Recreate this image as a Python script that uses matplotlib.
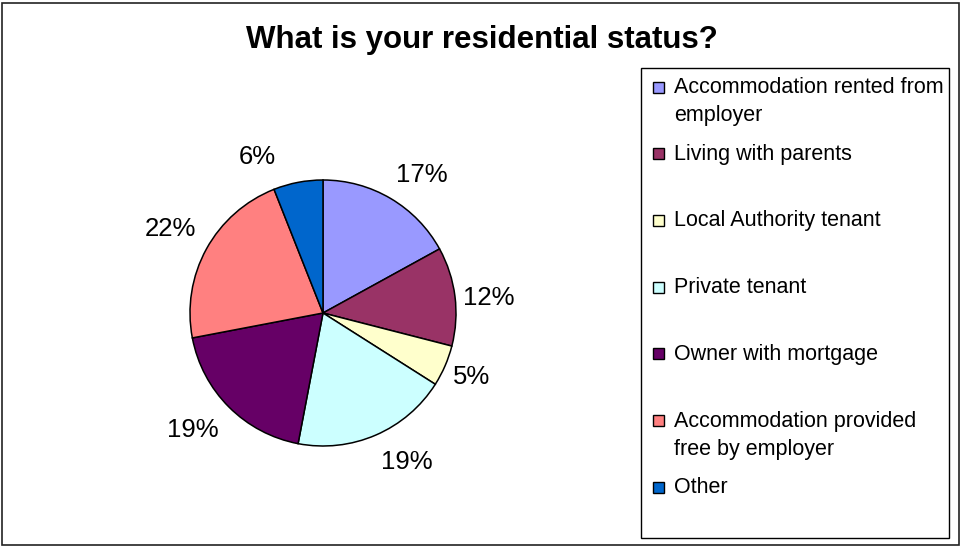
import numpy as np
import matplotlib.pyplot as plt
from matplotlib.patches import Rectangle

plt.rcParams['font.family'] = ['Liberation Sans', 'DejaVu Sans']

# residential status survey
categories = [
    'Accommodation rented from\nemployer',
    'Living with parents',
    'Local Authority tenant',
    'Private tenant',
    'Owner with mortgage',
    'Accommodation provided\nfree by employer',
    'Other',
]
shares = [17, 12, 5, 19, 19, 22, 6]
colors = ['#9999FF', '#993366', '#FFFFCC', '#CCFFFF', '#660066', '#FF8080', '#0066CC']

# best-fit style nudges for the percentage labels (degrees, radius)
label_turn = [-5, -2, 0, 6, -3, 0, 12]
label_rad = [1.28, 1.25, 1.22, 1.29, 1.32, 1.31, 1.27]

W, H = 961, 546
fig = plt.figure(figsize=(W / 100, H / 100), dpi=100)

# outer chart frame
fig.add_artist(Rectangle((1.5 / W, 1.5 / H), (W - 4) / W, (H - 4) / H,
                         transform=fig.transFigure, fill=False,
                         edgecolor='#222222', linewidth=1.2))

fig.text(482 / W, 1 - 40 / H, 'What is your residential status?',
         ha='center', va='center', fontsize=22.5, fontweight='bold')

# pie axes: centre (323, 313) px, radius 133 px
cx, cy, r = 323, 313, 133
ax = fig.add_axes([(cx - r) / W, (H - cy - r) / H, 2 * r / W, 2 * r / H])
wedges, _ = ax.pie(
    shares, colors=colors, startangle=90, counterclock=False,
    wedgeprops=dict(edgecolor='black', linewidth=1.1))
for w, val, dt, rr in zip(wedges, shares, label_turn, label_rad):
    mid = np.deg2rad((w.theta1 + w.theta2) / 2 + dt)
    ax.text(rr * np.cos(mid), rr * np.sin(mid), f'{val}%',
            ha='center', va='center', fontsize=18.5)
ax.set_xlim(-1, 1)
ax.set_ylim(-1, 1)
ax.set_aspect('equal')
ax.axis('off')

# legend box drawn by hand so entries sit on an even pitch
lx0, ly0, lx1, ly1 = 641, 68, 949, 538
fig.add_artist(Rectangle((lx0 / W, 1 - ly1 / H), (lx1 - lx0) / W, (ly1 - ly0) / H,
                         transform=fig.transFigure, fill=False,
                         edgecolor='black', linewidth=1.0))
pitch = 66.7
for i, (lab, col) in enumerate(zip(categories, colors)):
    y = 87 + i * pitch
    fig.add_artist(Rectangle((653 / W, 1 - (y + 5.5) / H), 11 / W, 11 / H,
                             transform=fig.transFigure, facecolor=col,
                             edgecolor='black', linewidth=1.0))
    fig.text(674 / W, 1 - (y - 10) / H, lab, ha='left', va='top',
             fontsize=15.5, linespacing=1.45)

fig.savefig('out.png', dpi=100)
